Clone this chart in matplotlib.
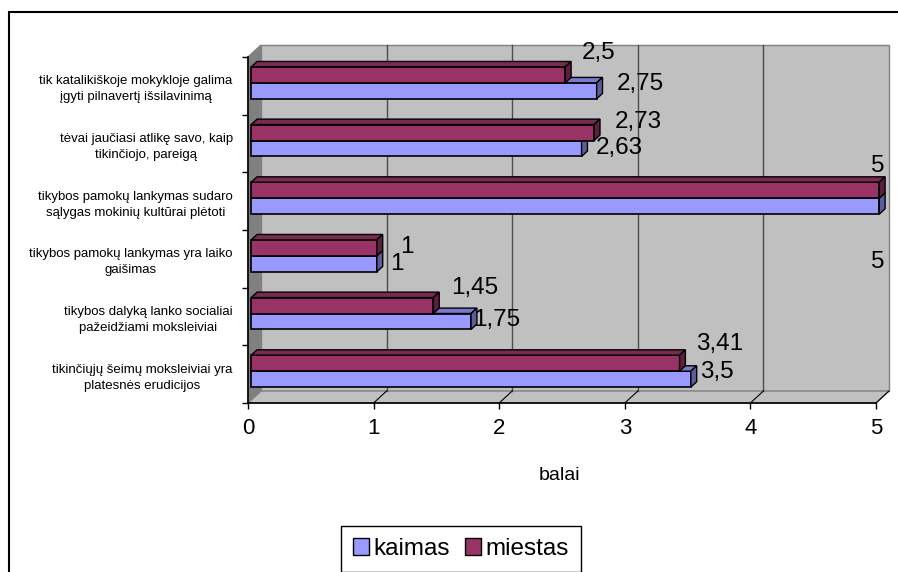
import matplotlib
matplotlib.use("Agg")
import matplotlib.pyplot as plt
from matplotlib.patches import Polygon, Rectangle, Patch

plt.rcParams['font.family'] = ['Liberation Sans', 'DejaVu Sans']

# data (top to bottom as in the chart)
categories = [
    "tik katalikiškoje mokykloje galima\nįgyti pilnavertį išsilavinimą",
    "tėvai jaučiasi atlikę savo, kaip\ntikinčiojo, pareigą",
    "tikybos pamokų lankymas sudaro\nsąlygas mokinių kultūrai plėtoti",
    "tikybos pamokų lankymas yra laiko\ngaišimas",
    "tikybos dalyką lanko socialiai\npažeidžiami moksleiviai",
    "tikinčiųjų šeimų moksleiviai yra\nplatesnės erudicijos",
]
kaimas = [2.75, 2.63, 5, 1, 1.75, 3.5]
miestas = [2.5, 2.73, 5, 1, 1.45, 3.41]
x_ticks = [0, 1, 2, 3, 4, 5]

# value label offsets in pixels (dx, dy) from the bar end
miestas_offsets = [(33, 22), (44, 11), (-1, 24), (30, 1), (41, 18), (40, 19)]
kaimas_offsets = [(44, 7), (38, 0), (-1, -56), (20, 0), (26, 1), (26, 7)]

# colours
kaimas_col = ["#9999ff", "#7a7acc", "#5c5c99"]   # front, top, side
miestas_col = ["#993366", "#7a2952", "#5c1f3d"]
wall_col = "#c0c0c0"

W, H = 898, 572
fig = plt.figure(figsize=(W / 100, H / 100), dpi=100)
fig.patch.set_facecolor("white")

# front plane of the 3d plot area
left_px, right_px, top_px, bottom_px = 248, 876, 57, 403
ax = fig.add_axes([left_px / W, 1 - bottom_px / H,
                   (right_px - left_px) / W, (bottom_px - top_px) / H])
n = len(categories)
ax.set_xlim(0, 5)
ax.set_ylim(0, n)
ax.set_facecolor("none")

# depth offset (full depth) in data units
DX = 13 / ((right_px - left_px) / 5)
DY = 12 / ((bottom_px - top_px) / n)
d0, d1 = 0.25, 0.70
bar_h = 0.277


def proj(x, y, d):
    return (x + d * DX, y + d * DY)


def poly(points, **kw):
    p = Polygon(points, closed=True, clip_on=False, **kw)
    ax.add_patch(p)
    return p


# walls and floor
poly([proj(0, 0, 1), proj(5, 0, 1), proj(5, n, 1), proj(0, n, 1)],
     facecolor=wall_col, edgecolor="#808080", lw=1, zorder=0)
poly([proj(0, 0, 0), proj(0, n, 0), proj(0, n, 1), proj(0, 0, 1)],
     facecolor="#808080", edgecolor="#808080", lw=1, zorder=0.2)
poly([proj(0, 0, 0), proj(5, 0, 0), proj(5, 0, 1), proj(0, 0, 1)],
     facecolor=wall_col, edgecolor="#808080", lw=1, zorder=0.2)
for k in x_ticks[1:-1]:
    x0, y0 = proj(k, 0, 1)
    x1, y1 = proj(k, n, 1)
    ax.plot([x0, x1], [y0, y1], color="#4d4d4d", lw=1, zorder=0.5, clip_on=False)
for k in x_ticks[1:]:
    x0, y0 = proj(k, 0, 0)
    x1, y1 = proj(k, 0, 1)
    ax.plot([x0, x1], [y0, y1], color="black", lw=0.8, zorder=0.5, clip_on=False)


def bar3d(y_bottom, value, cols):
    # front face via barh, then top and side faces
    xs, ys = proj(0, y_bottom, d0)
    bars = ax.barh(ys + bar_h / 2, value, height=bar_h, left=xs,
                   color=cols[0], edgecolor="black", lw=1.2, zorder=2)
    for b in bars:
        b.set_clip_on(False)
    yt = y_bottom + bar_h
    poly([proj(0, yt, d0), proj(value, yt, d0), proj(value, yt, d1), proj(0, yt, d1)],
         facecolor=cols[1], edgecolor="black", lw=1.0, zorder=2)
    poly([proj(value, y_bottom, d0), proj(value, yt, d0), proj(value, yt, d1),
          proj(value, y_bottom, d1)],
         facecolor=cols[2], edgecolor="black", lw=1.0, zorder=2)


def fmt(v):
    return f"{v:g}".replace(".", ",")


for i in range(n):
    yc = n - 0.5 - i
    bar3d(yc - bar_h, kaimas[i], kaimas_col)
    bar3d(yc, miestas[i], miestas_col)
    for val, yb, off in [(kaimas[i], yc - bar_h, kaimas_offsets[i]),
                         (miestas[i], yc, miestas_offsets[i])]:
        xe, ye = proj(val, yb + bar_h / 2, d0)
        ax.annotate(fmt(val), xy=(xe, ye), xytext=off, textcoords="offset pixels",
                    ha="center", va="center", fontsize=17.5, zorder=5,
                    annotation_clip=False)

# axes: front edges with ticks
for s in ["top", "right"]:
    ax.spines[s].set_visible(False)
ax.spines["left"].set_linewidth(1.2)
ax.spines["bottom"].set_linewidth(1.2)
ax.spines["left"].set_zorder(3)
ax.spines["bottom"].set_zorder(3)
ax.set_xticks(x_ticks)
ax.set_xticklabels([str(t) for t in x_ticks], fontsize=16)
ax.tick_params(axis="x", direction="out", length=4, width=1, pad=7)

centers = [n - 0.5 - i for i in range(n)]
ax.set_yticks(centers)
ax.set_yticklabels(categories, fontsize=9.5)
ax.set_yticks(range(n + 1), minor=True)
ax.tick_params(axis="y", which="major", length=0, pad=11)
ax.tick_params(axis="y", which="minor", direction="out", length=4, width=1)
for lab in ax.get_yticklabels():
    lab.set_multialignment("center")
    lab.set_linespacing(1.45)

fig.text(560 / W, 1 - 476 / H, "balai", ha="center", va="center", fontsize=14)

handles = [Patch(facecolor=kaimas_col[0], edgecolor="black", label="kaimas"),
           Patch(facecolor=miestas_col[0], edgecolor="black", label="miestas")]
leg = fig.legend(handles=handles, loc="center", ncol=2,
                 bbox_to_anchor=(461 / W, 1 - 549 / H), fontsize=17.5,
                 frameon=True, fancybox=False, framealpha=1, edgecolor="black",
                 handlelength=0.65, handleheight=0.65, handletextpad=0.2,
                 columnspacing=0.6, borderpad=0.5)
leg.get_frame().set_linewidth(1)

# chart outer border
fig.add_artist(Rectangle((8.5 / W, -0.1), 1.2, 1 - 12 / H + 0.1, fill=False,
                         edgecolor="black", lw=1.5, transform=fig.transFigure))

fig.savefig("out.png", dpi=100)
